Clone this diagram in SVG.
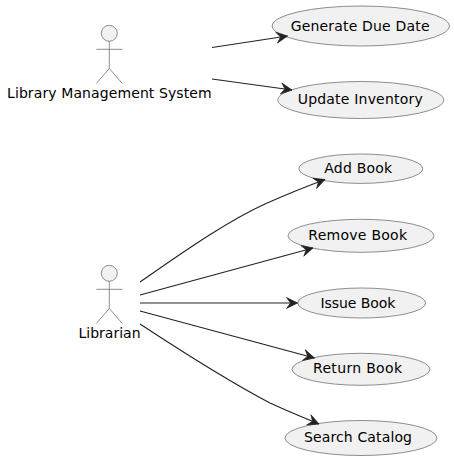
<svg xmlns="http://www.w3.org/2000/svg" width="454" height="460" viewBox="0 0 454 460">
<style>
text{font-family:"DejaVu Sans",sans-serif;font-size:14px;fill:#000}
.uc ellipse{fill:#f1f1f1;stroke:#7a7a7a;stroke-width:.85}
.actor circle{fill:#f1f1f1;stroke:#7a7a7a;stroke-width:.85}
.actor path{fill:none;stroke:#7a7a7a;stroke-width:.85}
#connectors path{fill:none;stroke:#222;stroke-width:1.1}
</style>
<defs>
<marker id="arr" markerUnits="userSpaceOnUse" markerWidth="14" markerHeight="12" refX="11" refY="5" orient="auto" overflow="visible">
<path d="M0 -.5L11 5L0 10.5L4 5Z" fill="#222" stroke="#222" stroke-width=".7"/>
</marker>
</defs>
<g id="actor-lms" class="actor">
<circle cx="109.3" cy="33.3" r="8"/>
<path d="M109.3 41.3V68.5M96.3 49.3H122.3M109.3 68.5L96.3 83.5M109.3 68.5L122.3 83.5"/>
<text x="7" y="98.3" textLength="204.7">Library Management System</text>
</g>
<g id="actor-librarian" class="actor">
<circle cx="109.3" cy="273.3" r="8"/>
<path d="M109.3 281.3V308.5M96.3 289.3H122.3M109.3 308.5L96.3 323.5M109.3 308.5L122.3 323.5"/>
<text x="78.5" y="338" textLength="62">Librarian</text>
</g>
<g id="uc-generate" class="uc"><ellipse cx="360.8" cy="26" rx="88.6" ry="20"/><text x="290.7" y="30.6" textLength="138.8">Generate Due Date</text></g>
<g id="uc-update" class="uc"><ellipse cx="360.8" cy="100" rx="83" ry="18.5"/><text x="297.7" y="103.8" textLength="125">Update Inventory</text></g>
<g id="uc-add" class="uc"><ellipse cx="360.8" cy="168.7" rx="62" ry="14.7"/><text x="324.3" y="173.2" textLength="67.8">Add Book</text></g>
<g id="uc-remove" class="uc"><ellipse cx="361" cy="235.8" rx="73" ry="16.5"/><text x="308.3" y="240" textLength="98.7">Remove Book</text></g>
<g id="uc-issue" class="uc"><ellipse cx="361.7" cy="303" rx="64" ry="15"/><text x="320.4" y="307.5" textLength="75">Issue Book</text></g>
<g id="uc-return" class="uc"><ellipse cx="361" cy="369.3" rx="69" ry="16"/><text x="313" y="373" textLength="89">Return Book</text></g>
<g id="uc-search" class="uc"><ellipse cx="361" cy="438" rx="76" ry="17.5"/><text x="304" y="442.3" textLength="108">Search Catalog</text></g>
<g id="connectors">
<path d="M212 47.5L287.5 36" marker-end="url(#arr)"/>
<path d="M212 79L292 90" marker-end="url(#arr)"/>
<path d="M140 282C175 258 225 222 265 204C285 195 305 187 325 179.5" marker-end="url(#arr)"/>
<path d="M140 295L313 248" marker-end="url(#arr)"/>
<path d="M140 303H297.5" marker-end="url(#arr)"/>
<path d="M140 311L314.5 358" marker-end="url(#arr)"/>
<path d="M140 324C175 347 230 382 270 403C285 410 302 417 319 424" marker-end="url(#arr)"/>
</g>
</svg>
